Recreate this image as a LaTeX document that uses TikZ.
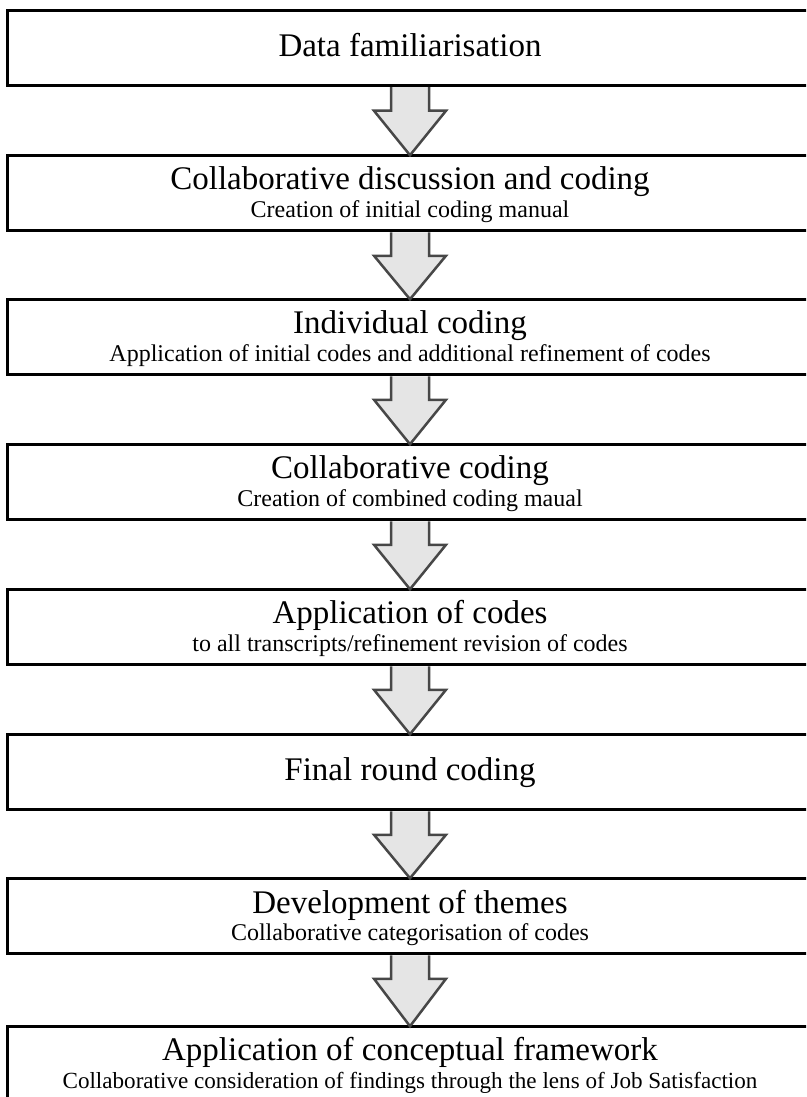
\documentclass[tikz,border=0pt]{standalone}
\usepackage{fontspec}
\setmainfont{Liberation Serif}
\usetikzlibrary{calc}

\begin{document}
\begin{tikzpicture}[x=1pt, y=-1pt]
        \tikzset{stage/.style = {draw, line width=3pt, outer sep=0pt, inner sep=0pt, minimum width=806pt, minimum height=75.5pt},
                 stagetitle/.style = {anchor=base, inner sep=0pt, font=\fontsize{33}{36}\selectfont},
                 stagenote/.style = {anchor=base, inner sep=0pt, font=\fontsize{24}{27}\selectfont},
                 blockarrow/.style = {draw=black!72, fill=black!10, line width=2.5pt, line join=miter}}

        \clip (0,0) rectangle (806,1097);

        \node[stage] (s1) at (410, 48) {};
        \node[stage] (s2) at (410, 193) {};
        \node[stage] (s3) at (410, 337) {};
        \node[stage] (s4) at (410, 482) {};
        \node[stage] (s5) at (410, 627) {};
        \node[stage] (s6) at (410, 772) {};
        \node[stage] (s7) at (410, 916) {};
        \node[stage] (s8) at (410, 1064) {};

        \node[stagetitle] (t1) at (410, 57) {Data familiarisation};
        \node[stagetitle] (t2) at (410, 189) {Collaborative discussion and coding};
        \node[stagenote]  (n2) at (410, 217) {Creation of initial coding manual};
        \node[stagetitle] (t3) at (410, 333.5) {Individual coding};
        \node[stagenote]  (n3) at (410, 361) {Application of initial codes and additional refinement of codes};
        \node[stagetitle] (t4) at (410, 478.5) {Collaborative coding};
        \node[stagenote]  (n4) at (410, 506) {Creation of combined coding maual};
        \node[stagetitle] (t5) at (410, 623.5) {Application of codes};
        \node[stagenote]  (n5) at (410, 651) {to all transcripts/refinement revision of codes};
        \node[stagetitle] (t6) at (410, 780) {Final round coding};
        \node[stagetitle] (t7) at (410, 913) {Development of themes};
        \node[stagenote]  (n7) at (410, 940.5) {Collaborative categorisation of codes};
        \node[stagetitle] (t8) at (410, 1060) {Application of conceptual framework};
        \node[stagenote, font=\fontsize{23.1}{26}\selectfont] (n8) at (410, 1088) {Collaborative consideration of findings through the lens of Job Satisfaction};

        \draw[blockarrow] ($(s1.south)+(-19,1.5)$) -- ++(0,23.5) -- ++(-17,0) -- (s2.north) -- ($(s1.south)+(36,25)$) -- ++(-17,0) -- ++(0,-23.5);
        \draw[blockarrow] ($(s2.south)+(-19,1.5)$) -- ++(0,23.5) -- ++(-17,0) -- (s3.north) -- ($(s2.south)+(36,25)$) -- ++(-17,0) -- ++(0,-23.5);
        \draw[blockarrow] ($(s3.south)+(-19,1.5)$) -- ++(0,23.5) -- ++(-17,0) -- (s4.north) -- ($(s3.south)+(36,25)$) -- ++(-17,0) -- ++(0,-23.5);
        \draw[blockarrow] ($(s4.south)+(-19,1.5)$) -- ++(0,23.5) -- ++(-17,0) -- (s5.north) -- ($(s4.south)+(36,25)$) -- ++(-17,0) -- ++(0,-23.5);
        \draw[blockarrow] ($(s5.south)+(-19,1.5)$) -- ++(0,23.5) -- ++(-17,0) -- (s6.north) -- ($(s5.south)+(36,25)$) -- ++(-17,0) -- ++(0,-23.5);
        \draw[blockarrow] ($(s6.south)+(-19,1.5)$) -- ++(0,23.5) -- ++(-17,0) -- (s7.north) -- ($(s6.south)+(36,25)$) -- ++(-17,0) -- ++(0,-23.5);
        \draw[blockarrow] ($(s7.south)+(-19,1.5)$) -- ++(0,23.5) -- ++(-17,0) -- (s8.north) -- ($(s7.south)+(36,25)$) -- ++(-17,0) -- ++(0,-23.5);

    \end{tikzpicture}
\end{document}
